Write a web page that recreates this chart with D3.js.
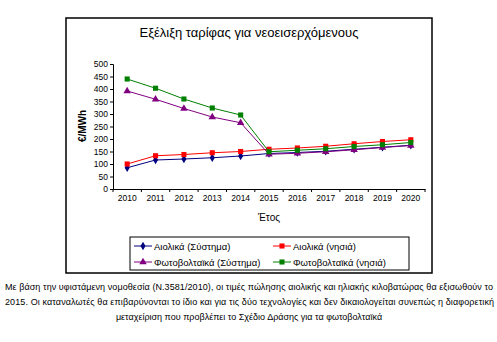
<!DOCTYPE html>
<html><head><meta charset="utf-8">
<script src="https://cdn.jsdelivr.net/npm/d3@7"></script>
<style>body{margin:0;background:#fff}svg{display:block;font-family:"Liberation Sans",Arial,sans-serif}</style>
</head><body>
<svg id="c" width="497" height="342"></svg>
<script>
const years = ["2010","2011","2012","2013","2014","2015","2016","2017","2018","2019","2020"];
const windSystem = [85,116,120,125,132,142,146,151,159,167,175];
const windIslands = [100,133,138,145,150,159,164,171,181,190,197];
const pvSystem = [392,359,322,288,265,139,143,149,157,166,174];
const pvIslands = [440,403,360,324,296,149,155,161,170,177,186];
const yTicks = [0,50,100,150,200,250,300,350,400,450,500];
const seriesNames = ["Αιολικά (Σύστημα)","Αιολικά (νησιά)","Φωτοβολταϊκά (Σύστημα)","Φωτοβολταϊκά (νησιά)"];
const title = "Εξέλιξη ταρίφας για νεοεισερχόμενους";
const yLabel = "€/MWh";
const xLabel = "Έτος";
const caption = [
 "Με βάση την υφιστάμενη νομοθεσία (N.3581/2010), οι τιμές πώλησης αιολικής και ηλιακής κιλοβατώρας θα εξισωθούν το",
 "2015. Οι καταναλωτές θα επιβαρύνονται το ίδιο και για τις δύο τεχνολογίες και δεν δικαιολογείται συνεπώς η διαφορετική",
 "μεταχείριση που προβλέπει το Σχέδιο Δράσης για τα φωτοβολταϊκά"
];

const series = [
  {name: seriesNames[0], values: windSystem, color: "#000080", sym: d3.symbolDiamond, size: 22},
  {name: seriesNames[1], values: windIslands, color: "#FF0000", sym: d3.symbolSquare, size: 26},
  {name: seriesNames[2], values: pvSystem, color: "#800080", sym: d3.symbolTriangle, size: 24},
  {name: seriesNames[3], values: pvIslands, color: "#008000", sym: d3.symbolSquare, size: 26}
];

const svg = d3.select("#c");
svg.append("rect").attr("x",66).attr("y",18).attr("width",366).attr("height",255)
  .attr("fill","#fff").attr("stroke","#000").attr("stroke-width",1.5);

svg.append("text").attr("x",249).attr("y",37).attr("text-anchor","middle")
  .attr("font-size",13).attr("fill","#000").text(title);

const x = d3.scaleBand().domain(years).range([113,425]);
const y = d3.scaleLinear().domain([0,500]).range([189,64]);

const ya = svg.append("g").attr("transform","translate(113,0)")
  .call(d3.axisLeft(y).tickValues(yTicks).tickSize(3).tickPadding(2));
ya.selectAll("text").attr("font-size",8.5).attr("fill","#000").attr("font-family","Liberation Sans, Arial");
ya.select(".domain").attr("stroke","#000");
ya.selectAll(".tick line").attr("stroke","#000");

const xa = svg.append("g").attr("transform","translate(0,189)")
  .call(d3.axisBottom(x).tickSize(0).tickPadding(6));
xa.select(".domain").attr("stroke","#000");
xa.selectAll("text").attr("font-size",8.5).attr("fill","#000").attr("font-family","Liberation Sans, Arial");
const bounds = years.map(d => x(d)).concat([x.range()[1]]);
xa.selectAll(".bt").data(bounds).enter().append("line").attr("class","bt")
  .attr("x1",d=>d).attr("x2",d=>d).attr("y1",0).attr("y2",3).attr("stroke","#000");

svg.append("text").attr("transform","translate(86,126) rotate(-90)").attr("text-anchor","middle")
  .attr("font-size",10).attr("font-weight","bold").attr("fill","#000").text(yLabel);
svg.append("text").attr("x",269).attr("y",221).attr("text-anchor","middle")
  .attr("font-size",10).attr("fill","#000").text(xLabel);

const line = d3.line().x((d,i)=>x(years[i])+x.bandwidth()/2).y(d=>y(d));
series.forEach(s => {
  svg.append("path").datum(s.values).attr("d",line).attr("fill","none")
    .attr("stroke",s.color).attr("stroke-width",1);
  svg.selectAll(null).data(s.values).enter().append("path")
    .attr("d", d3.symbol().type(s.sym).size(s.size))
    .attr("transform",(d,i)=>`translate(${x(years[i])+x.bandwidth()/2},${y(d)})`)
    .attr("fill",s.color);
});

svg.append("rect").attr("x",130).attr("y",237).attr("width",279).attr("height",33)
  .attr("fill","#fff").attr("stroke","#000").attr("stroke-width",1);
const legPos = [[134,246],[273,246],[134,262],[273,262]];
series.forEach((s,i)=>{
  const [lx,ly] = legPos[i];
  svg.append("line").attr("x1",lx).attr("x2",lx+18).attr("y1",ly).attr("y2",ly)
    .attr("stroke",s.color).attr("stroke-width",1);
  svg.append("path").attr("d",d3.symbol().type(s.sym).size(s.size))
    .attr("transform",`translate(${lx+9},${ly})`).attr("fill",s.color);
  svg.append("text").attr("x",lx+20).attr("y",ly+3.5).attr("font-size",9.5).attr("fill","#000").text(s.name);
});

const cap = svg.append("g").attr("font-size",9).attr("fill","#000");
cap.append("text").attr("x",5).attr("y",290).attr("textLength",488).attr("lengthAdjust","spacing").text(caption[0]);
cap.append("text").attr("x",5).attr("y",305).attr("textLength",489).attr("lengthAdjust","spacing").text(caption[1]);
cap.append("text").attr("x",249).attr("y",320).attr("text-anchor","middle").text(caption[2]);
</script>
</body></html>
